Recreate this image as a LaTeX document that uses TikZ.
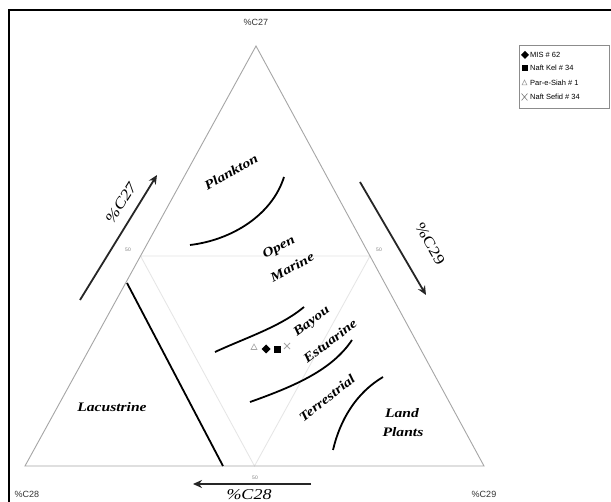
\documentclass[tikz,border=0pt]{standalone}
\usepackage{fontspec}
\setmainfont{Liberation Serif}
\newfontfamily\sansf{Liberation Sans}
\newfontfamily\widef[FakeStretch=1.2]{Liberation Serif}
\usetikzlibrary{arrows.meta,calc}
\begin{document}
\begin{tikzpicture}[x=1pt,y=-1pt,
  side/.style={draw=black!35,line width=0.9pt},
  medial/.style={draw=black!10,line width=0.8pt},
  bound/.style={draw=black,line width=1.8pt},
  zone/.style={font=\widef\fontsize{13}{14}\selectfont\bfseries\itshape,inner sep=0pt,align=center},
  corner/.style={font=\sansf\fontsize{9}{10}\selectfont,text=black!80,inner sep=0pt},
  fifty/.style={font=\sansf\fontsize{5}{6}\selectfont,text=black!50,inner sep=0pt},
  axarrow/.style={draw=black!85,line width=1.8pt,-{Stealth[length=9pt,width=8pt]}},
  axlabel/.style={font=\widef\fontsize{15}{16}\selectfont\itshape,inner sep=0pt},
  legtext/.style={font=\sansf\fontsize{7.5}{8}\selectfont,anchor=west,inner sep=0pt}
]
\useasboundingbox (0,0) rectangle (611,502);
\fill[white] (0,0) rectangle (611,502);
% frame
\draw[line width=1.4pt] (9,502) -- (9,10) -- (611,10);
% triangle vertices
\coordinate (A) at (25,466);
\coordinate (B) at (484,466);
\coordinate (C) at (256,46);
\coordinate (mL) at ($(A)!0.5!(C)$);
\coordinate (mR) at ($(B)!0.5!(C)$);
\coordinate (mB) at ($(A)!0.5!(B)$);
\draw[medial] (mL) -- (mR) -- (mB) -- cycle;
\draw[side] (A) -- (B) -- (C) -- cycle;
% corner labels
\node[corner] (c27) at (256,22) {\%C27};
\node[corner] (c28) at (27,494) {\%C28};
\node[corner] (c29) at (484,494) {\%C29};
\node[fifty] (f1) at (128,250) {50};
\node[fifty] (f2) at (379,250) {50};
\node[fifty] (f3) at (255,478) {50};
% boundaries
\draw[bound] (127,283) -- (223,466);
\draw[bound] (190,245) .. controls (232,240) and (272,215) .. (284,177);
\draw[bound] (215,352) .. controls (245,338) and (280,327) .. (304,307);
\draw[bound] (250,402) .. controls (295,386) and (332,370) .. (352,340);
\draw[bound] (333,450) .. controls (340,420) and (356,393) .. (383,377);
% zone labels
\node[zone,rotate=29] (plank) at (231,172) {Plankton};
\node[zone,rotate=28] (open) at (279,248) {Open};
\node[zone,rotate=28] (marine) at (292,267) {Marine};
\node[zone,rotate=37] (bayou) at (312,322) {Bayou};
\node[zone,rotate=37] (estu) at (330,341) {Estuarine};
\node[zone,rotate=38] (terr) at (327,398) {Terrestrial};
\node[zone] (land) at (402,413) {Land};
\node[zone] (plants) at (403,432) {Plants};
\node[zone] (lacu) at (112,407) {Lacustrine};
% axis arrows
\coordinate (a27s) at (80,300);
\coordinate (a27e) at (157,175);
\draw[axarrow] (a27s) -- (a27e);
\node[axlabel,rotate=58] (l27) at (121,203) {\%C27};
\coordinate (a29s) at (360,182);
\coordinate (a29e) at (426,295);
\draw[axarrow] (a29s) -- (a29e);
\node[axlabel,font=\widef\fontsize{15}{16}\selectfont,rotate=-60] (l29) at (430,244) {\%C29};
\coordinate (a28s) at (311,484);
\coordinate (a28e) at (193,484);
\draw[axarrow] (a28s) -- (a28e);
\node[axlabel] (l28) at (249,495) {\%C28};
% data points
\draw[black!35,line width=0.6pt] (254,344) -- (257,349.5) -- (251,349.5) -- cycle;
\fill[black] (266,344.5) -- (270.5,349) -- (266,353.5) -- (261.5,349) -- cycle;
\fill[black] (273.5,346.5) rectangle (280.5,353.5);
\draw[black!35,line width=0.8pt] (284,343) -- (290,349) (284,349) -- (290,343);
% legend
\draw[black!45,line width=0.8pt,fill=white] (519,45) rectangle (609,108);
\fill[black] (525,51) -- (529,55) -- (525,59) -- (521,55) -- cycle;
\node[legtext] (lg1) at (530,55) {MIS \# 62};
\fill[black] (521.5,65) rectangle (527.5,71);
\node[legtext] (lg2) at (530,68) {Naft Kel \# 34};
\draw[black!40,line width=0.5pt] (524.5,80) -- (527,85) -- (522,85) -- cycle;
\node[legtext] (lg3) at (530,83) {Par-e-Siah \# 1};
\draw[black!50,line width=0.6pt] (521.5,93.5) -- (527.5,100.5) (521.5,100.5) -- (527.5,93.5);
\node[legtext] (lg4) at (530,97) {Naft Sefid \# 34};
\end{tikzpicture}
\end{document}
